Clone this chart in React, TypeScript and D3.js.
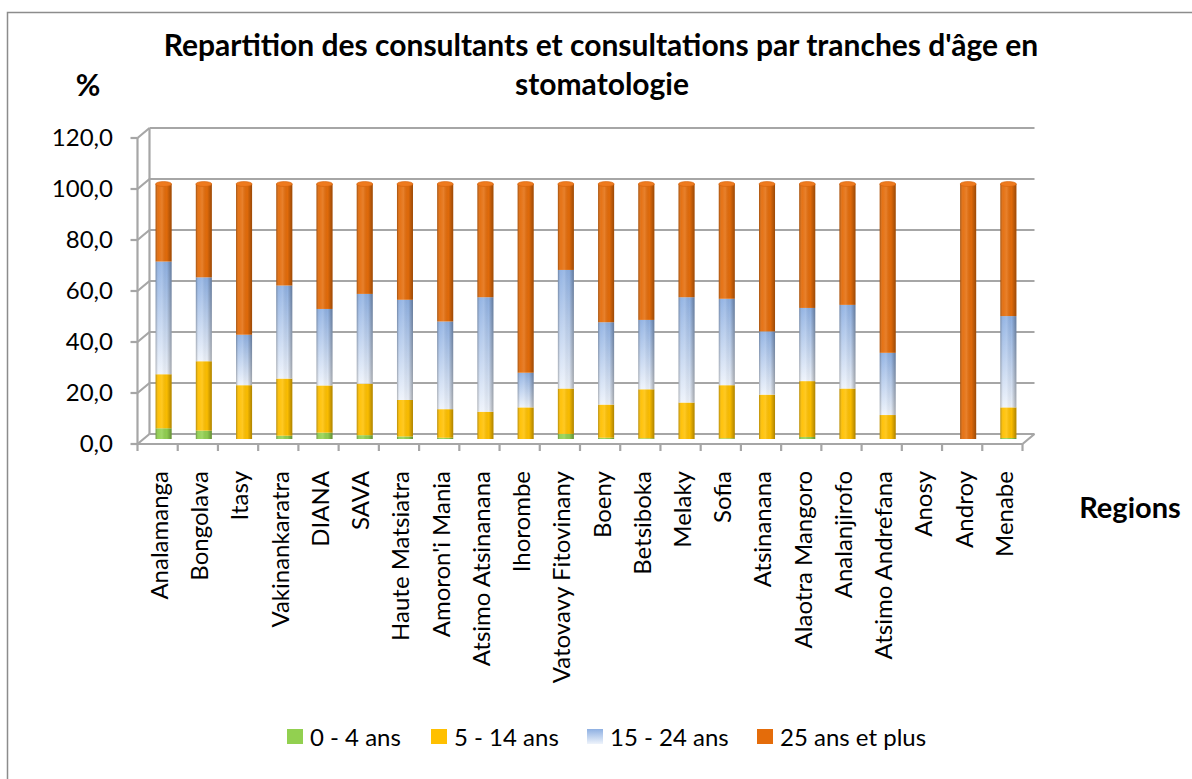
import React from "react";
import * as d3 from "d3";

const regions = [
  "Analamanga", "Bongolava", "Itasy", "Vakinankaratra", "DIANA", "SAVA",
  "Haute Matsiatra", "Amoron'i Mania", "Atsimo Atsinanana", "Ihorombe",
  "Vatovavy Fitovinany", "Boeny", "Betsiboka", "Melaky", "Sofia", "Atsinanana",
  "Alaotra Mangoro", "Analanjirofo", "Atsimo Andrefana", "Anosy", "Androy", "Menabe",
];
const age0to4 = [4.2, 3.3, 0, 1.3, 2.5, 1.5, 1.0, 0.5, 0, 0, 2.0, 0.5, 0.3, 0, 0.3, 0, 0.8, 0, 0, 0, 0, 0.4];
const age5to14 = [21.2, 27.2, 21.1, 22.4, 18.5, 20.2, 14.3, 11.2, 10.7, 12.4, 17.8, 13.0, 19.2, 14.3, 20.8, 17.4, 21.9, 19.8, 9.4, 0, 0, 12.0];
const age15to24 = [44.2, 32.9, 19.8, 36.5, 30.0, 35.2, 39.3, 34.4, 44.9, 13.6, 46.5, 32.3, 27.2, 41.3, 33.9, 24.8, 28.7, 32.8, 24.4, 0, 0, 35.8];
const age25plus = [30.4, 36.6, 59.1, 39.8, 49.0, 43.1, 45.4, 53.9, 44.4, 74.0, 33.7, 54.2, 53.3, 44.4, 45.0, 57.8, 48.6, 47.4, 66.2, 0, 100, 51.8];
const seriesNames = ["0 - 4 ans", "5 - 14 ans", "15 - 24 ans", "25 ans et plus"];
const yTicks = [0, 20, 40, 60, 80, 100, 120];

const keys = ["g", "y", "b", "o"];
const table = regions.map((r, i) => ({
  region: r,
  g: age0to4[i],
  y: age5to14[i],
  b: age15to24[i],
  o: age25plus[i],
}));

const FONT = "Lato, 'Open Sans', sans-serif";
const fills = ["#92D050", "#FFC000", "url(#blueGrad)", "#E46C0A"];

export default function App() {
  const x = d3.scaleBand<string>().domain(regions).range([137.5, 1022.5]);
  const y = d3.scaleLinear().domain([0, 120]).range([444, 138]);
  const stack = d3.stack<any>().keys(keys)(table);
  const DX = 12, DY = -10;
  const bx = DX / 2, by = DY / 2;
  const barW = 16;
  const fmt = (v: number) => d3.format(".1f")(v).replace(".", ",");
  const x0 = x.range()[0], x1 = x.range()[1];

  return (
    <svg width={1192} height={779} style={{ position: "absolute", left: 0, top: 0, background: "#fff" }}>
      <defs>
        <linearGradient id="blueGrad" x1="0" y1="0" x2="0" y2="1">
          <stop offset="0%" stopColor="#8EB0E2" />
          <stop offset="100%" stopColor="#EEF3FB" />
        </linearGradient>
        <linearGradient id="cyl" x1="0" y1="0" x2="1" y2="0">
          <stop offset="0%" stopColor="#000" stopOpacity={0.3} />
          <stop offset="18%" stopColor="#fff" stopOpacity={0.05} />
          <stop offset="40%" stopColor="#fff" stopOpacity={0.14} />
          <stop offset="70%" stopColor="#000" stopOpacity={0.02} />
          <stop offset="100%" stopColor="#000" stopOpacity={0.32} />
        </linearGradient>
      </defs>
      <rect x={7.5} y={12.5} width={1300} height={900} fill="none" stroke="#8c8c8c" strokeWidth={1.5} />

      {/* title */}
      <text x={601} y={56} textAnchor="middle" fontFamily={FONT} fontWeight="bold" fontSize={30}>
        Repartition des consultants et consultations par tranches d'âge en
      </text>
      <text x={602} y={95} textAnchor="middle" fontFamily={FONT} fontWeight="bold" fontSize={30}>
        stomatologie
      </text>
      <text x={88} y={96} textAnchor="middle" fontFamily={FONT} fontWeight="bold" fontSize={30}>%</text>

      {/* walls and grid */}
      <g stroke="#a6a6a6" strokeWidth={2.2} fill="none">
        {yTicks.map((t) => (
          <g key={t}>
            <line x1={x0 + DX} x2={x1 + DX} y1={y(t) + DY} y2={y(t) + DY} />
            <line x1={x0} x2={x0 + DX} y1={y(t)} y2={y(t) + DY} />
            <line x1={x0 - 7} x2={x0} y1={y(t)} y2={y(t)} />
          </g>
        ))}
        <line x1={x0} x2={x0} y1={y(120)} y2={y(0)} />
        <line x1={x0 + DX} x2={x0 + DX} y1={y(120) + DY} y2={y(0) + DY} />
        <line x1={x0} x2={x1} y1={y(0)} y2={y(0)} />
        <line x1={x1} x2={x1 + DX} y1={y(0)} y2={y(0) + DY} />
        {regions.map((r) => (
          <line key={r} x1={x(r)!} x2={x(r)!} y1={y(0)} y2={y(0) + 7} />
        ))}
        <line x1={x1} x2={x1} y1={y(0)} y2={y(0) + 7} />
      </g>

      {/* y tick labels */}
      {yTicks.map((t) => (
        <text key={t} x={113} y={y(t)} dy="0.35em" textAnchor="end" fontFamily={FONT} fontSize={24}>
          {fmt(t)}
        </text>
      ))}

      {/* bars */}
      {stack.map((s, si) => (
        <g key={si}>
          {s.map((d, i) => {
            const top = d[1], bot = d[0];
            if (top - bot <= 0) return null;
            const cx = x(regions[i])! + x.bandwidth() / 2 + bx;
            return (
              <g key={i}>
                <rect x={cx - barW / 2} y={y(top) + by} width={barW} height={y(bot) - y(top)} fill={fills[si]} />
                <rect x={cx - barW / 2} y={y(top) + by} width={barW} height={y(bot) - y(top)} fill="url(#cyl)" />
              </g>
            );
          })}
        </g>
      ))}
      {/* top caps */}
      {table.map((d, i) => {
        const total = d.g + d.y + d.b + d.o;
        if (total <= 0) return null;
        const cx = x(regions[i])! + x.bandwidth() / 2 + bx;
        return (
          <ellipse key={i} cx={cx} cy={y(total) + by} rx={barW / 2} ry={2.5} fill="#EE7A1E" stroke="#D4620A" strokeWidth={0.6} />
        );
      })}

      {/* category labels */}
      {regions.map((r) => {
        const cx = x(r)! + x.bandwidth() / 2 + 2;
        return (
          <text key={r} transform={`translate(${cx},471) rotate(-90)`} textAnchor="end" dy="0.35em" fontFamily={FONT} fontSize={24}>
            {r}
          </text>
        );
      })}

      <text x={1130} y={508} dy="0.35em" textAnchor="middle" fontFamily={FONT} fontWeight="bold" fontSize={29}>Regions</text>

      {/* legend */}
      {seriesNames.map((n, i) => {
        const sx = [287, 431, 587, 757][i];
        return (
          <g key={n}>
            <rect x={sx} y={729} width={16} height={15} fill={fills[i]} />
            <text x={sx + 23} y={746} fontFamily={FONT} fontSize={24}>{n}</text>
          </g>
        );
      })}
    </svg>
  );
}
